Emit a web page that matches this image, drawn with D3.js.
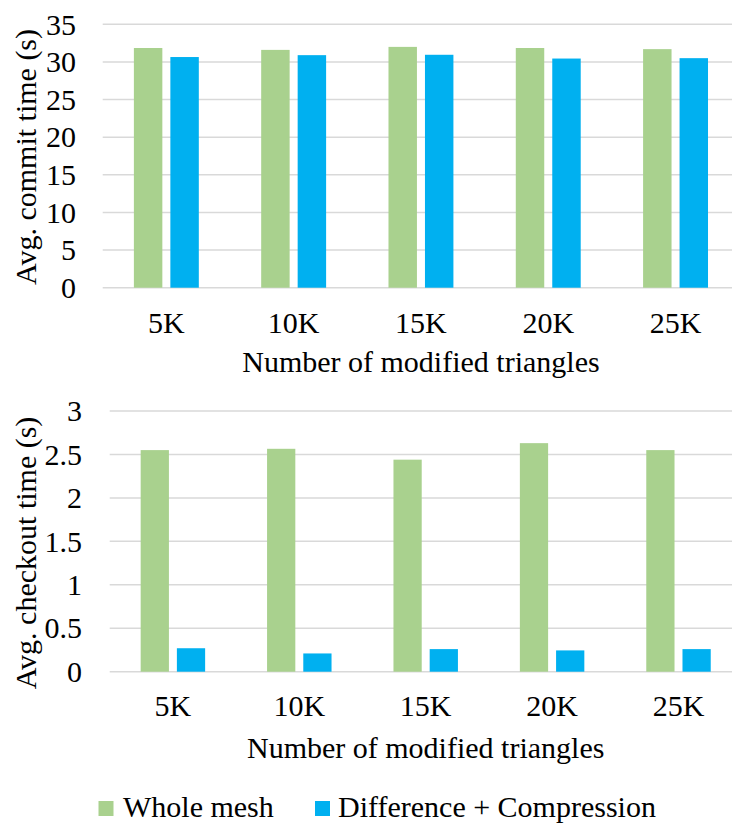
<!DOCTYPE html>
<html>
<head>
<meta charset="utf-8">
<script src="https://cdn.jsdelivr.net/npm/d3@7"></script>
<style>
  html, body { margin: 0; padding: 0; background: #fff; }
  svg { display: block; }
  text { font-family: "Liberation Serif", "Times New Roman", serif; fill: #000; }
</style>
</head>
<body>
<svg id="chart" width="732" height="824"></svg>
<script>
const categories = ["5K", "10K", "15K", "20K", "25K"];
const seriesNames = ["Whole mesh", "Difference + Compression"];
const seriesColors = ["#A9D18E", "#00B0F0"];
const commitWhole = [31.85, 31.6, 32.0, 31.85, 31.7];
const commitDiff = [30.65, 30.9, 30.95, 30.45, 30.5];
const checkoutWhole = [2.55, 2.565, 2.44, 2.63, 2.55];
const checkoutDiff = [0.27, 0.21, 0.26, 0.245, 0.26];
const commitTicks = [0, 5, 10, 15, 20, 25, 30, 35];
const checkoutTicks = [0, 0.5, 1, 1.5, 2, 2.5, 3];
const xTitle = "Number of modified triangles";

const svg = d3.select("#chart");
const FS = 30;

function drawPanel(cfg) {
  const g = svg.append("g");
  const x0 = d3.scaleBand().domain(categories).range([cfg.left, cfg.right])
    .paddingInner(0.49).paddingOuter(0.245);
  const x1 = d3.scaleBand().domain(seriesNames).range([0, x0.bandwidth()])
    .paddingInner(0.22).paddingOuter(0);
  const y = d3.scaleLinear().domain(cfg.domain).range([cfg.bottom, cfg.top]);

  // gridlines
  g.append("g").selectAll("line").data(cfg.ticks).join("line")
    .attr("x1", cfg.left).attr("x2", 732)
    .attr("y1", d => y(d)).attr("y2", d => y(d))
    .attr("stroke", "#D9D9D9").attr("stroke-width", 1.5);

  // y tick labels
  g.append("g").selectAll("text").data(cfg.ticks).join("text")
    .attr("x", cfg.tickRight).attr("y", d => y(d))
    .attr("dy", "0.34em")
    .attr("text-anchor", "end")
    .style("font-size", FS + "px")
    .text(d => d3.format("")(d));

  // bars
  const rows = categories.map((c, i) => ({ c, vals: [cfg.s1[i], cfg.s2[i]] }));
  const grp = g.append("g").selectAll("g").data(rows).join("g")
    .attr("transform", d => `translate(${x0(d.c)},0)`);
  grp.selectAll("rect").data(d => d.vals.map((v, k) => ({ v, k })))
    .join("rect")
    .attr("x", d => x1(seriesNames[d.k]))
    .attr("width", x1.bandwidth())
    .attr("y", d => y(d.v))
    .attr("height", d => y(0) - y(d.v))
    .attr("fill", d => seriesColors[d.k]);

  // x tick labels
  g.append("g").selectAll("text").data(categories).join("text")
    .attr("x", d => x0(d) + x0.bandwidth() / 2)
    .attr("y", cfg.xTickBase)
    .attr("text-anchor", "middle")
    .style("font-size", FS + "px")
    .text(d => d);

  // x title
  g.append("text")
    .attr("x", (cfg.left + cfg.right) / 2)
    .attr("y", cfg.xTitleBase)
    .attr("text-anchor", "middle")
    .style("font-size", FS + "px")
    .text(xTitle);

  // y title
  g.append("text")
    .attr("transform", `translate(${cfg.yTitleX},${cfg.yTitleY}) rotate(-90)`)
    .attr("text-anchor", "middle")
    .style("font-size", FS + "px")
    .text(cfg.yTitle);
}

drawPanel({
  left: 102.7, right: 739.2, top: 24.3, bottom: 287.7,
  domain: [0, 35], ticks: commitTicks, s1: commitWhole, s2: commitDiff,
  tickRight: 76, xTickBase: 333, xTitleBase: 372,
  yTitle: "Avg. commit time (s)", yTitleX: 36, yTitleY: 157
});

drawPanel({
  left: 109.7, right: 741.7, top: 411, bottom: 671.7,
  domain: [0, 3], ticks: checkoutTicks, s1: checkoutWhole, s2: checkoutDiff,
  tickRight: 82, xTickBase: 716, xTitleBase: 758,
  yTitle: "Avg. checkout time (s)", yTitleX: 36, yTitleY: 553
});

// legend
const legend = svg.append("g");
const legendItems = [
  { name: seriesNames[0], color: seriesColors[0], sx: 98.5, tx: 123 },
  { name: seriesNames[1], color: seriesColors[1], sx: 315, tx: 338 }
];
legend.selectAll("rect").data(legendItems).join("rect")
  .attr("x", d => d.sx).attr("y", 801).attr("width", 15).attr("height", 15)
  .attr("fill", d => d.color);
legend.selectAll("text").data(legendItems).join("text")
  .attr("x", d => d.tx).attr("y", 817)
  .style("font-size", FS + "px")
  .text(d => d.name);
</script>
</body>
</html>
